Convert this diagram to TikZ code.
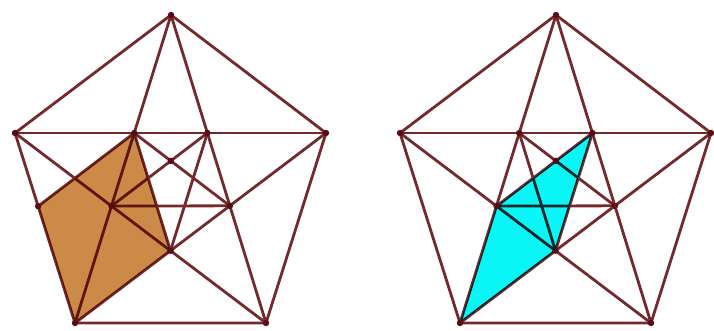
\documentclass[tikz,border=0pt]{standalone}
\usepackage{xcolor}
\usepackage{tikz}
\usetikzlibrary{calc}

\definecolor{edgecol}{RGB}{116,42,44}
\definecolor{dotcol}{RGB}{90,10,22}
\definecolor{facebrown}{RGB}{204,138,72}
\definecolor{facecyan}{RGB}{10,245,245}

\begin{document}
\begin{tikzpicture}[x=1pt, y=-1pt,
edge/.style={draw=edgecol, line width=2.8pt, line cap=round, line join=round},
face/.style={blend mode=multiply},
dot/.style={fill=dotcol}
]
\useasboundingbox (0,0) rectangle (714,330);

% corners of the two pentagons, inner points from the diagonals
\foreach \p/\dx in {l/0, r/385}{
  \coordinate (\p T) at (171+\dx,15);
  \coordinate (\p L) at (15+\dx,133);
  \coordinate (\p R) at (326+\dx,133);
  \coordinate (\p BL) at (75+\dx,323);
  \coordinate (\p BR) at (266+\dx,323);
  \coordinate (\p A) at (intersection of \p T--\p BL and \p L--\p R);
  \coordinate (\p B) at (intersection of \p T--\p BR and \p L--\p R);
  \coordinate (\p D) at (intersection of \p T--\p BL and \p L--\p BR);
  \coordinate (\p E) at (intersection of \p T--\p BR and \p R--\p BL);
  \coordinate (\p F) at (intersection of \p L--\p BR and \p R--\p BL);
  \coordinate (\p X) at (intersection of \p A--\p E and \p B--\p D);
}
\coordinate (lC) at (intersection of lL--lBL and lD--lE);

% edges
\foreach \p in {l,r}{
  \draw[edge] (\p T) -- (\p L) -- (\p BL) -- (\p BR) -- (\p R) -- cycle;
  \draw[edge] (\p L) -- (\p R);
  \draw[edge] (\p T) -- (\p BL);
  \draw[edge] (\p T) -- (\p BR);
  \draw[edge] (\p L) -- (\p BR);
  \draw[edge] (\p R) -- (\p BL);
  \draw[edge] (\p D) -- (\p E);
  \draw[edge] (\p A) -- (\p E);
  \draw[edge] (\p B) -- (\p D);
  \draw[edge] (\p A) -- (\p F);
  \draw[edge] (\p B) -- (\p F);
}
\draw[edge] (lC) -- (lA);

% shaded faces
\fill[face, facebrown] (lC) -- (lA) -- (lF) -- (lBL) -- cycle;
\fill[face, facecyan] (rBL) -- (rD) -- (rB) -- (rF) -- cycle;

% vertex dots
\foreach \p in {l,r}{
  \foreach \v in {T,L,R,BL,BR,A,B,D,E,F,X}{
    \fill[dot] (\p\v) circle (3.2);
  }
}
\fill[dot] (lC) circle (3.2);
\end{tikzpicture}
\end{document}
